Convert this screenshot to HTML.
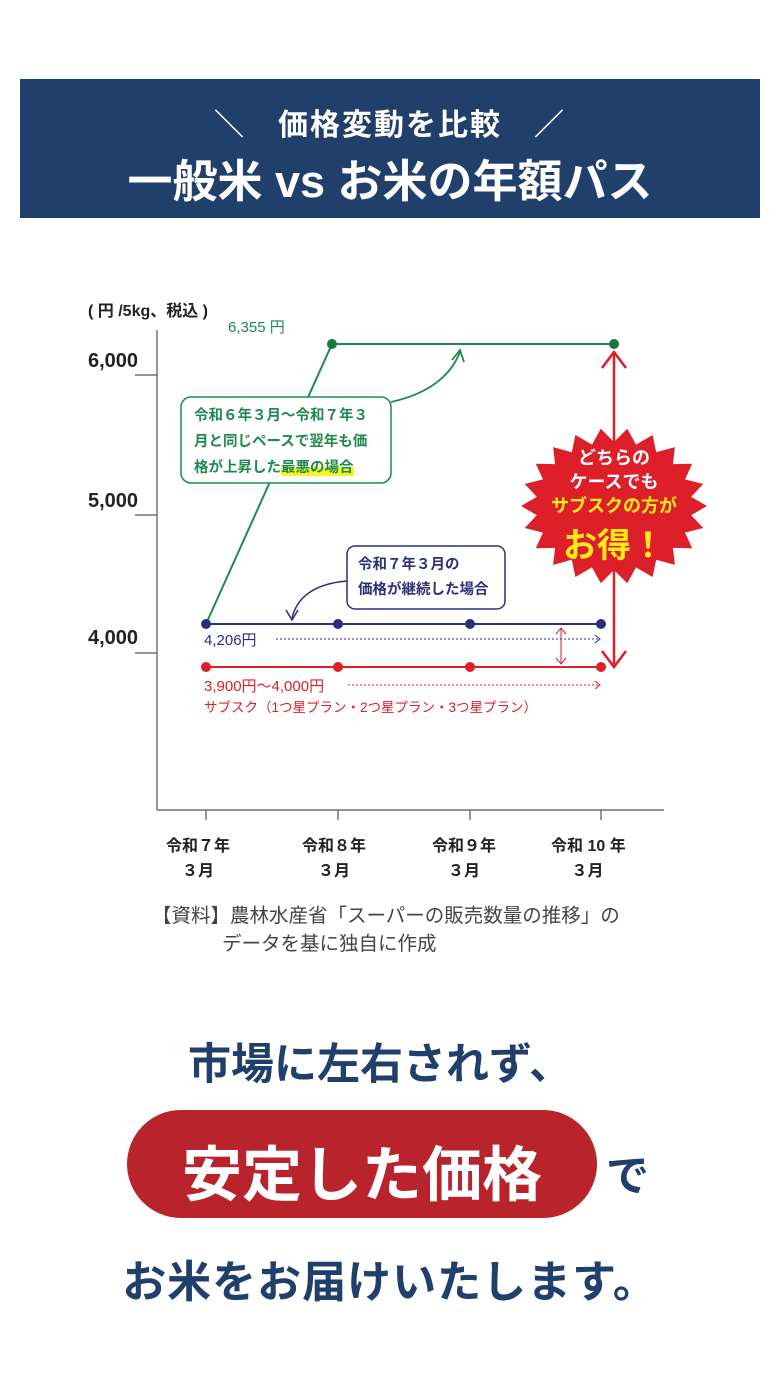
<!DOCTYPE html>
<html><head><meta charset="utf-8"><style>
body{margin:0;width:780px;height:1395px;background:#fff;position:relative;font-family:"Liberation Sans","Noto Sans CJK JP",sans-serif;overflow:hidden}
.a{position:absolute;white-space:nowrap}
</style></head><body>
<div class="a" style="left:20px;top:79px;width:740px;height:139px;background:#213f6b"></div>
<div class="a" style="left:0;width:780px;top:100px;text-align:center;color:#fff;font-size:30px;font-weight:bold;letter-spacing:2px">＼　価格変動を比較　／</div>
<div class="a" style="left:0;width:780px;top:145px;text-align:center;color:#fff;font-size:45px;font-weight:bold">一般米 vs お米の年額パス</div>

<div class="a" style="left:88px;top:297px;font-size:16px;font-weight:bold;color:#222">( 円 /5kg、税込 )</div>
<div class="a" style="left:88px;top:350px;font-size:20px;font-weight:bold;color:#222">6,000</div>
<div class="a" style="left:88px;top:490px;font-size:20px;font-weight:bold;color:#222">5,000</div>
<div class="a" style="left:88px;top:627px;font-size:20px;font-weight:bold;color:#222">4,000</div>

<svg class="a" style="left:0;top:0" width="780" height="1000">
<g stroke="#555" stroke-width="1.2"><line x1="157" y1="330" x2="157" y2="810"/><line x1="157" y1="810" x2="664" y2="810"/>
<line x1="135" y1="375" x2="157" y2="375"/><line x1="135" y1="515" x2="157" y2="515"/><line x1="135" y1="653" x2="157" y2="653"/>
<line x1="206" y1="810" x2="206" y2="820"/><line x1="338" y1="810" x2="338" y2="820"/><line x1="470" y1="810" x2="470" y2="820"/><line x1="601" y1="810" x2="601" y2="820"/></g>
<polyline points="206,624 332,344 614,344" fill="none" stroke="#1e8a4e" stroke-width="2"/>
<circle cx="332" cy="344" r="5" fill="#16793f"/><circle cx="614" cy="344" r="5" fill="#16793f"/>
<path d="M391 402 Q445 390 460 352" fill="none" stroke="#1e8a4e" stroke-width="1.8"/><path d="M452 360 L460 350 L464 362" fill="none" stroke="#1e8a4e" stroke-width="1.8"/>
<line x1="206" y1="624" x2="601" y2="624" stroke="#2d2f7a" stroke-width="2"/>
<g fill="#2d2f7a"><circle cx="206" cy="624" r="5"/><circle cx="338" cy="624" r="5"/><circle cx="470" cy="624" r="5"/><circle cx="601" cy="624" r="5"/></g>
<line x1="206" y1="667" x2="601" y2="667" stroke="#dd1f2a" stroke-width="2"/>
<g fill="#dd1f2a"><circle cx="206" cy="667" r="5"/><circle cx="338" cy="667" r="5"/><circle cx="470" cy="667" r="5"/><circle cx="601" cy="667" r="5"/></g>
<path d="M347 581 Q300 585 292 618" fill="none" stroke="#2d2f7a" stroke-width="1.5"/><path d="M286 610 L292 620 L298 610" fill="none" stroke="#2d2f7a" stroke-width="1.5"/>
<line x1="276" y1="639" x2="600" y2="639" stroke="#2d2f7a" stroke-width="1" stroke-dasharray="2,2"/><path d="M595 635L600 639L595 643" fill="none" stroke="#2d2f7a"/>
<line x1="348" y1="685" x2="600" y2="685" stroke="#dd1f2a" stroke-width="1" stroke-dasharray="2,2"/><path d="M595 681L600 685L595 689" fill="none" stroke="#dd1f2a"/>
<line x1="561" y1="628" x2="561" y2="664" stroke="#dd1f2a" stroke-width="1"/><path d="M556 634L561 628L566 634M556 658L561 664L566 658" fill="none" stroke="#dd1f2a"/>
<line x1="614" y1="352" x2="614" y2="667" stroke="#dd1f2a" stroke-width="2.5"/><path d="M602 368L614 352L626 368M602 651L614 667L626 651" fill="none" stroke="#dd1f2a" stroke-width="2.5"/>
<rect x="181" y="397" width="210" height="86" rx="10" fill="#fff" stroke="#1e8a4e" stroke-width="1.5"/>
<rect x="347" y="546" width="158" height="63" rx="8" fill="#fff" stroke="#2d2f7a" stroke-width="1.5"/>
<polygon id="star" fill="#dd1f2a" points=""/>
</svg>
<script>
(function(){var p=[],cx=614,cy=506,n=22;for(var i=0;i<n*2;i++){var t=Math.PI*i/n;var rx=i%2?78:93,ry=i%2?64:78;p.push((cx+rx*Math.cos(t)).toFixed(1)+","+(cy+ry*Math.sin(t)).toFixed(1));}document.getElementById('star').setAttribute('points',p.join(' '));})();
</script>
<div class="a" style="left:228px;top:316px;font-size:15px;color:#1e8a4e">6,355 円</div>
<div class="a" style="left:194px;top:403px;font-size:14.5px;line-height:26px;font-weight:bold;color:#1e8a4e">令和６年３月〜令和７年３<br>月と同じペースで翌年も価<br>格が上昇した<span style="background:linear-gradient(transparent 45%,#f5f526 45%)">最悪の場合</span></div>
<div class="a" style="left:358px;top:553px;font-size:14.5px;line-height:25px;font-weight:bold;color:#2d2f7a">令和７年３月の<br>価格が継続した場合</div>
<div class="a" style="left:204px;top:629px;font-size:15px;color:#2d2f7a">4,206円</div>
<div class="a" style="left:204px;top:675px;font-size:15px;color:#dd1f2a">3,900円〜4,000円</div>
<div class="a" style="left:204px;top:696px;font-size:13.5px;color:#dd1f2a">サブスク（1つ星プラン・2つ星プラン・3つ星プラン）</div>
<div class="a" style="left:534px;top:446px;width:160px;text-align:center;font-size:18px;line-height:24px;font-weight:bold;color:#fff">どちらの<br>ケースでも<br><span style="color:#ffeb1a">サブスクの方が</span></div>
<div class="a" style="left:534px;top:518px;width:160px;text-align:center;font-size:34px;font-weight:bold;color:#ffeb1a">お得！</div>

<div class="a" style="left:166px;top:834px;font-size:16px;line-height:25px;font-weight:bold;color:#222">令和７年<br>　３月</div>
<div class="a" style="left:302px;top:834px;font-size:16px;line-height:25px;font-weight:bold;color:#222">令和８年<br>　３月</div>
<div class="a" style="left:432px;top:834px;font-size:16px;line-height:25px;font-weight:bold;color:#222">令和９年<br>　３月</div>
<div class="a" style="left:551px;top:834px;font-size:16px;line-height:25px;font-weight:bold;color:#222">令和 10 年<br>　 ３月</div>
<div class="a" style="left:152px;top:902px;font-size:19.5px;line-height:28px;color:#444">【資料】農林水産省「スーパーの販売数量の推移」の<br><span style="padding-left:70px">データを基に独自に作成</span></div>

<div class="a" style="left:0;width:760px;top:1030px;text-align:center;font-size:43px;font-weight:bold;color:#213f6b">市場に左右されず、</div>
<div class="a" style="left:127px;top:1110px;width:470px;height:108px;border-radius:54px;background:#b8232c"></div>
<div class="a" style="left:127px;top:1127px;width:470px;text-align:center;font-size:60px;font-weight:bold;color:#fff">安定した価格</div>
<div class="a" style="left:606px;top:1142px;font-size:43px;font-weight:bold;color:#213f6b">で</div>
<div class="a" style="left:0;width:780px;top:1246px;text-align:center;font-size:44px;letter-spacing:1px;font-weight:bold;color:#213f6b">お米をお届けいたします。</div>
</body></html>
